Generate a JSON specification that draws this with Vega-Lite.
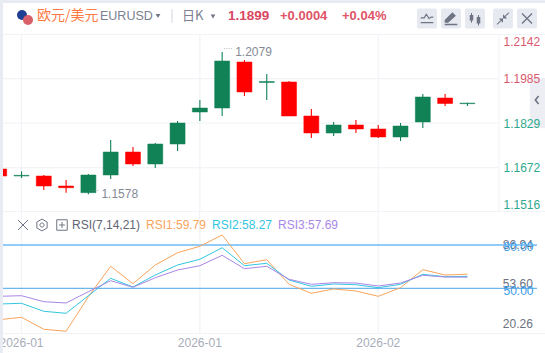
{
"$schema":"https://vega.github.io/schema/vega-lite/v6.json",
"background":"#e8ebf1",
"padding":{"left":3,"top":3,"right":0,"bottom":0},
"spacing":0,
"bounds":"flush",
"config":{"view":{"fill":"#ffffff","stroke":null},"font":"Liberation Sans","text":{"font":"Liberation Sans"}},
"datasets":{"bars":[
{"i":0,"open":1.16672,"high":1.16672,"low":1.16426,"close":1.16426,"rsi1":28.25,"rsi2":39.13,"rsi3":44.46},
{"i":1,"open":1.16426,"high":1.16591,"low":1.16356,"close":1.1645,"rsi1":29.92,"rsi2":39.61,"rsi3":44.88},
{"i":2,"open":1.16426,"high":1.16461,"low":1.15933,"close":1.16074,"rsi1":21.61,"rsi2":34.07,"rsi3":40.72},
{"i":3,"open":1.16074,"high":1.16285,"low":1.15839,"close":1.16014,"rsi1":20.26,"rsi2":32.69,"rsi3":39.82},
{"i":4,"open":1.15839,"high":1.16496,"low":1.1578,"close":1.16461,"rsi1":44.18,"rsi2":44.88,"rsi3":47.65},
{"i":5,"open":1.16461,"high":1.17692,"low":1.1632,"close":1.1727,"rsi1":65.24,"rsi2":56.93,"rsi3":55.26},
{"i":6,"open":1.1727,"high":1.17446,"low":1.16778,"close":1.16848,"rsi1":53.19,"rsi2":50.9,"rsi3":50.69},
{"i":7,"open":1.16848,"high":1.17587,"low":1.16707,"close":1.17551,"rsi1":66.14,"rsi2":59.21,"rsi3":57.34},
{"i":8,"open":1.17551,"high":1.1836,"low":1.17305,"close":1.1829,"rsi1":74.65,"rsi2":66.14,"rsi3":62.67},
{"i":9,"open":1.18677,"high":1.19099,"low":1.1836,"close":1.18817,"rsi1":79.09,"rsi2":70.08,"rsi3":65.65},
{"i":10,"open":1.18817,"high":1.2079,"low":1.18536,"close":1.2047,"rsi1":86.94,"rsi2":78.12,"rsi3":72.85},
{"i":11,"open":1.20435,"high":1.20506,"low":1.19239,"close":1.1938,"rsi1":67.04,"rsi2":65.65,"rsi3":63.57},
{"i":12,"open":1.19714,"high":1.20013,"low":1.19099,"close":1.19749,"rsi1":69.81,"rsi2":67.31,"rsi3":65.24},
{"i":13,"open":1.19732,"high":1.19767,"low":1.18536,"close":1.18536,"rsi1":52.77,"rsi2":55.75,"rsi3":56.23},
{"i":14,"open":1.18536,"high":1.18782,"low":1.17762,"close":1.17938,"rsi1":46.54,"rsi2":51.39,"rsi3":52.77},
{"i":15,"open":1.17938,"high":1.18325,"low":1.17833,"close":1.1822,"rsi1":49.52,"rsi2":52.98,"rsi3":53.88},
{"i":16,"open":1.1822,"high":1.18395,"low":1.17938,"close":1.18079,"rsi1":48.13,"rsi2":52.49,"rsi3":53.67},
{"i":17,"open":1.18079,"high":1.1822,"low":1.17762,"close":1.17798,"rsi1":44.46,"rsi2":50.42,"rsi3":51.59},
{"i":18,"open":1.17798,"high":1.1829,"low":1.17657,"close":1.18184,"rsi1":50.42,"rsi2":52.77,"rsi3":53.67},
{"i":19,"open":1.18325,"high":1.1931,"low":1.18114,"close":1.19204,"rsi1":62.88,"rsi2":59.7,"rsi3":59},
{"i":20,"open":1.19169,"high":1.1931,"low":1.18888,"close":1.18975,"rsi1":59.21,"rsi2":58.03,"rsi3":57.83},
{"i":21,"open":1.1897,"high":1.19,"low":1.1889,"close":1.1899,"rsi1":59.79,"rsi2":58.27,"rsi3":57.69}
]},
"vconcat":[
{"width":542,"height":31,"data":{"values":[{"panel":"header"}]},
 "layer":[
 {"mark":{"type":"point","filled":true,"color":"#e6e9f0","opacity":1,"size":400,"shape":"M-0.8,-1H0.8Q1,-1 1,-0.8V0.8Q1,1 0.8,1H-0.8Q-1,1 -1,0.8V-0.8Q-1,-1 -0.8,-1Z"},
  "data":{"values":[{"b":427},{"b":451},{"b":475},{"b":503},{"b":527}]},
  "encoding":{"x":{"field":"b","type":"quantitative","scale":{"domain":[3,545],"nice":false,"zero":false},"axis":null}}},
 {"mark":{"type":"point","filled":false,"color":"#6e7483","opacity":1,"strokeWidth":1.2,"size":196,"shape":"M-0.9,-0.1L-0.4,-0.1L-0.1,-0.6L0.3,0L0.6,-0.2L0.9,-0.2M-0.9,0.6L0.9,0.6"},
  "encoding":{"x":{"datum":427,"type":"quantitative","scale":{"domain":[3,545],"nice":false,"zero":false},"axis":null}}},
 {"mark":{"type":"point","filled":true,"color":"#6e7483","opacity":1,"size":196,"shape":"M-0.9,0.6L-0.9,0.2L0.2,-0.9L0.7,-0.4L-0.4,0.6ZM-0.9,0.75L0.9,0.75L0.9,0.95L-0.9,0.95Z"},
  "encoding":{"x":{"datum":451,"type":"quantitative","scale":{"domain":[3,545],"nice":false,"zero":false},"axis":null}}},
 {"mark":{"type":"point","filled":true,"color":"#6e7483","opacity":1,"size":196,"shape":"M-0.75,-0.5H-0.25V0.3H-0.75ZM-0.57,-0.8H-0.43V0.6H-0.57ZM0.25,-0.2H0.75V0.7H0.25ZM0.43,-0.5H0.57V1H0.43Z"},
  "encoding":{"x":{"datum":475,"type":"quantitative","scale":{"domain":[3,545],"nice":false,"zero":false},"axis":null}}},
 {"mark":{"type":"point","filled":true,"color":"#6e7483","opacity":1,"size":196,"shape":"M0.9,-0.8L0.35,-0.25L0.25,-0.35L0.8,-0.9ZM0,-0.6L0,0L0.6,0ZM-0.9,0.8L-0.35,0.25L-0.25,0.35L-0.8,0.9ZM0,0.6L0,0L-0.6,0Z"},
  "encoding":{"x":{"datum":503,"type":"quantitative","scale":{"domain":[3,545],"nice":false,"zero":false},"axis":null}}},
 {"mark":{"type":"point","filled":false,"color":"#6e7483","opacity":1,"strokeWidth":1.3,"size":100,"shape":"M-1,-1L1,1M-1,1L1,-1"},
  "encoding":{"x":{"datum":527,"type":"quantitative","scale":{"domain":[3,545],"nice":false,"zero":false},"axis":null}}},
 {"mark":{"type":"point","filled":true,"color":"#1f3f95","opacity":1,"size":100,"shape":"circle","yOffset":-3.5},
  "encoding":{"x":{"datum":22,"type":"quantitative","scale":{"domain":[3,545],"nice":false,"zero":false},"axis":null}}},
 {"mark":{"type":"point","filled":true,"color":"#d9606a","opacity":1,"size":100,"shape":"circle","yOffset":1.5},
  "encoding":{"x":{"datum":28,"type":"quantitative","scale":{"domain":[3,545],"nice":false,"zero":false},"axis":null}}},
 {"mark":{"type":"text","align":"left","dy":-2.5,"font":"Noto Sans CJK SC","fontSize":14,"color":"#ff7a45"},
  "encoding":{"x":{"datum":37,"type":"quantitative","scale":{"domain":[3,545],"nice":false,"zero":false},"axis":null},"text":{"value":"欧元/美元"}}},
 {"mark":{"type":"text","align":"left","dy":-2.5,"fontSize":12.5,"color":"#7b8091"},
  "encoding":{"x":{"datum":100,"type":"quantitative","scale":{"domain":[3,545],"nice":false,"zero":false},"axis":null},"text":{"value":"EURUSD"}}},
 {"mark":{"type":"point","filled":true,"color":"#6e7483","opacity":1,"size":22,"shape":"triangle-down","yOffset":-2.5},
  "encoding":{"x":{"datum":158,"type":"quantitative","scale":{"domain":[3,545],"nice":false,"zero":false},"axis":null}}},
 {"mark":{"type":"point","filled":false,"color":"#d0d4dc","opacity":1,"strokeWidth":1,"size":196,"shape":"M0,-1L0,1","yOffset":-2.5},
  "encoding":{"x":{"datum":172,"type":"quantitative","scale":{"domain":[3,545],"nice":false,"zero":false},"axis":null}}},
 {"mark":{"type":"text","align":"left","dy":-3,"font":"Noto Sans CJK SC","fontSize":13,"color":"#7b8091"},
  "encoding":{"x":{"datum":182,"type":"quantitative","scale":{"domain":[3,545],"nice":false,"zero":false},"axis":null},"text":{"value":"日K"}}},
 {"mark":{"type":"point","filled":true,"color":"#6e7483","opacity":1,"size":22,"shape":"triangle-down","yOffset":-2},
  "encoding":{"x":{"datum":213,"type":"quantitative","scale":{"domain":[3,545],"nice":false,"zero":false},"axis":null}}},
 {"mark":{"type":"text","align":"left","dy":-2.5,"fontSize":13.5,"fontWeight":"bold","color":"#d9475f"},
  "encoding":{"x":{"datum":228,"type":"quantitative","scale":{"domain":[3,545],"nice":false,"zero":false},"axis":null},"text":{"value":"1.1899"}}},
 {"mark":{"type":"text","align":"left","dy":-2.5,"fontSize":13,"fontWeight":"bold","color":"#de5468"},
  "encoding":{"x":{"datum":280,"type":"quantitative","scale":{"domain":[3,545],"nice":false,"zero":false},"axis":null},"text":{"value":"+0.0004"}}},
 {"mark":{"type":"text","align":"left","dy":-2.5,"fontSize":13,"fontWeight":"bold","color":"#de5468"},
  "encoding":{"x":{"datum":342,"type":"quantitative","scale":{"domain":[3,545],"nice":false,"zero":false},"axis":null},"text":{"value":"+0.04%"}}}
 ]},
{"width":542,"height":178,"data":{"name":"bars"},
 "resolve":{"scale":{"y":"independent"}},
 "layer":[
 {"data":{"values":[{"p":1.1985},{"p":1.1829},{"p":1.1672}]},"mark":{"type":"rule","color":"#f1f3f7","strokeWidth":1.2,"clip":true},
  "encoding":{"y":{"field":"p","type":"quantitative","scale":{"domain":[1.1516,1.2142],"nice":false,"zero":false},"axis":null},
   "x":{"datum":0.17,"type":"quantitative","scale":{"domain":[0.17,24.48],"nice":false,"zero":false,"padding":0},"axis":null},"x2":{"datum":22.41}}},
 {"data":{"values":[{"p":1.2142},{"p":1.1516}]},"mark":{"type":"rule","color":"#f1f3f7","strokeWidth":2,"clip":true},
  "encoding":{"y":{"field":"p","type":"quantitative","scale":{"domain":[1.1516,1.2142],"nice":false,"zero":false},"axis":null},
   "x":{"datum":0.17,"type":"quantitative","scale":{"domain":[0.17,24.48],"nice":false,"zero":false,"padding":0},"axis":null},"x2":{"datum":24.48}}},
 {"data":{"values":[{"v":1},{"v":9},{"v":17},{"v":22.41}]},"mark":{"type":"rule","color":"#f1f3f7","strokeWidth":1.2,"clip":true},
  "encoding":{"x":{"field":"v","type":"quantitative","scale":{"domain":[0.17,24.48],"nice":false,"zero":false,"padding":0},"axis":null}}},
 {"data":{"values":[{"tab":"collapse"}]},"mark":{"type":"rect","color":"#eceef3","clip":true},
  "encoding":{"x":{"datum":23.8,"type":"quantitative","scale":{"domain":[0.17,24.48],"nice":false,"zero":false,"padding":0},"axis":null},"x2":{"datum":24.48},
   "y":{"datum":1.1987,"type":"quantitative","scale":{"domain":[1.1516,1.2142],"nice":false,"zero":false},"axis":null},"y2":{"datum":1.1811}}},
 {"data":{"values":[{"tab":"collapse"}]},"mark":{"type":"point","filled":false,"color":"#6e7483","opacity":1,"strokeWidth":1.6,"size":64,"shape":"M0.4,-1L-0.4,0L0.4,1"},
  "encoding":{"x":{"datum":24.12,"type":"quantitative","scale":{"domain":[0.17,24.48],"nice":false,"zero":false,"padding":0},"axis":null},
   "y":{"datum":1.191,"type":"quantitative","scale":{"domain":[1.1516,1.2142],"nice":false,"zero":false},"axis":null}}},
 {"mark":{"type":"rule","strokeWidth":1.1,"clip":true},
  "encoding":{"x":{"field":"i","type":"quantitative","scale":{"domain":[0.17,24.48],"nice":false,"zero":false,"padding":0},"axis":null},
   "y":{"field":"low","type":"quantitative","scale":{"domain":[1.1516,1.2142],"nice":false,"zero":false},"axis":null},"y2":{"field":"high"},
   "color":{"condition":{"test":"datum.close>=datum.open","value":"#118156"},"value":"#ff0000"}}},
 {"mark":{"type":"bar","size":15,"clip":true,"strokeWidth":0.5},
  "encoding":{"x":{"field":"i","type":"quantitative","scale":{"domain":[0.17,24.48],"nice":false,"zero":false,"padding":0},"axis":null},
   "y":{"field":"open","type":"quantitative","scale":{"domain":[1.1516,1.2142],"nice":false,"zero":false},"axis":null},"y2":{"field":"close"},
   "color":{"condition":{"test":"datum.close>=datum.open","value":"#118156"},"value":"#ff0000"},
   "stroke":{"condition":{"test":"datum.close>=datum.open","value":"#118156"},"value":"#ff0000"}}},
 {"data":{"values":[{"i":10,"p":1.2079,"label":"1.2079"},{"i":4,"p":1.1578,"label":"1.1578"}]},
  "mark":{"type":"text","align":"left","dx":13,"fontSize":12,"color":"#858a96"},
  "encoding":{"x":{"field":"i","type":"quantitative","scale":{"domain":[0.17,24.48],"nice":false,"zero":false,"padding":0},"axis":null},
   "y":{"field":"p","type":"quantitative","scale":{"domain":[1.1516,1.2142],"nice":false,"zero":false},"axis":null},"text":{"field":"label"}}},
 {"data":{"values":[{"i":10,"p":1.2079},{"i":4,"p":1.1578}]},
  "mark":{"type":"text","align":"left","dx":1,"dy":-3,"fontSize":7,"color":"#858a96"},
  "encoding":{"x":{"field":"i","type":"quantitative","scale":{"domain":[0.17,24.48],"nice":false,"zero":false,"padding":0},"axis":null},
   "y":{"field":"p","type":"quantitative","scale":{"domain":[1.1516,1.2142],"nice":false,"zero":false},"axis":null},"text":{"value":"····"}}},
 {"data":{"values":[{"tick":1.2142},{"tick":1.1985},{"tick":1.1829},{"tick":1.1672},{"tick":1.1516}]},
  "mark":{"type":"rule","opacity":0,"clip":true},
  "encoding":{"y":{"field":"tick","type":"quantitative","scale":{"domain":[1.1516,1.2142],"nice":false,"zero":false},
    "axis":{"title":null,"orient":"right","offset":-46,"values":[1.2142,1.1985,1.1829,1.1672,1.1516],"format":".4f","ticks":false,"domain":false,"grid":false,"labelOffset":{"expr":"datum.value>1.21?7:datum.value<1.155?-7.5:0"},"labelPadding":4,"labelFontSize":12,"labelFont":"Liberation Sans","zindex":1,"labelColor":{"expr":"datum.value>1.19?'#dd5a6e':'#2fa98e'"}}}}}
 ]},
{"width":542,"height":20,"data":{"values":[{"panel":"legend"}]},
 "layer":[
 {"data":{"values":[{"v":21.5},{"v":199.5},{"v":378}]},"mark":{"type":"rule","color":"#f1f3f7","strokeWidth":1.2,"clip":true},
  "encoding":{"x":{"field":"v","type":"quantitative","scale":{"domain":[3,545],"nice":false,"zero":false},"axis":null}}},
 {"mark":{"type":"point","filled":false,"color":"#6e7483","opacity":1,"strokeWidth":1,"size":100,"yOffset":3,"shape":"M-1,-1L1,1M-1,1L1,-1"},
  "encoding":{"x":{"datum":23,"type":"quantitative","scale":{"domain":[3,545],"nice":false,"zero":false},"axis":null}}},
 {"mark":{"type":"point","filled":false,"color":"#6e7483","opacity":1,"strokeWidth":1,"size":140,"yOffset":3,"shape":"M0,-1L0.87,-0.5L0.87,0.5L0,1L-0.87,0.5L-0.87,-0.5ZM0.35,0A0.35,0.35 0 1 1 -0.35,0A0.35,0.35 0 1 1 0.35,0Z"},
  "encoding":{"x":{"datum":42,"type":"quantitative","scale":{"domain":[3,545],"nice":false,"zero":false},"axis":null}}},
 {"mark":{"type":"point","filled":false,"color":"#6e7483","opacity":1,"strokeWidth":1,"size":110,"yOffset":3,"shape":"M-1,-1H1V1H-1ZM-0.55,0H0.55M0,-0.55V0.55"},
  "encoding":{"x":{"datum":62,"type":"quantitative","scale":{"domain":[3,545],"nice":false,"zero":false},"axis":null}}},
 {"mark":{"type":"text","align":"left","dy":3,"fontSize":12,"color":"#5f6573"},
  "encoding":{"x":{"datum":72,"type":"quantitative","scale":{"domain":[3,545],"nice":false,"zero":false},"axis":null},"text":{"value":"RSI(7,14,21)"}}},
 {"mark":{"type":"text","align":"left","dy":3,"fontSize":12,"color":"#f9a45c"},
  "encoding":{"x":{"datum":146,"type":"quantitative","scale":{"domain":[3,545],"nice":false,"zero":false},"axis":null},"text":{"value":"RSI1:59.79"}}},
 {"mark":{"type":"text","align":"left","dy":3,"fontSize":12,"color":"#33c6e0"},
  "encoding":{"x":{"datum":212,"type":"quantitative","scale":{"domain":[3,545],"nice":false,"zero":false},"axis":null},"text":{"value":"RSI2:58.27"}}},
 {"mark":{"type":"text","align":"left","dy":3,"fontSize":12,"color":"#a987e6"},
  "encoding":{"x":{"datum":278,"type":"quantitative","scale":{"domain":[3,545],"nice":false,"zero":false},"axis":null},"text":{"value":"RSI3:57.69"}}}
 ]},
{"width":542,"height":102,"data":{"name":"bars"},
 "resolve":{"scale":{"y":"independent"}},
 "layer":[
 {"data":{"values":[{"v":1},{"v":9},{"v":17}]},"mark":{"type":"rule","color":"#f1f3f7","strokeWidth":1.2,"clip":true},
  "encoding":{"x":{"field":"v","type":"quantitative","scale":{"domain":[0.17,24.48],"nice":false,"zero":false},"axis":null}}},
 {"data":{"values":[{"edge":"bottom"}]},"mark":{"type":"rule","color":"#f1f3f7","strokeWidth":2,"clip":true},
  "encoding":{"x":{"datum":0.17,"type":"quantitative","scale":{"domain":[0.17,24.48],"nice":false,"zero":false},"axis":null},"x2":{"datum":24.48},
   "y":{"datum":18.35,"type":"quantitative","scale":{"domain":[18.35,88.99],"nice":false,"zero":false},"axis":null}}},
 {"data":{"values":[{"t":86.94},{"t":53.6},{"t":20.26}]},"mark":{"type":"text","align":"left","fontSize":12,"color":"#6d7280"},
  "encoding":{"x":{"datum":22.59,"type":"quantitative","scale":{"domain":[0.17,24.48],"nice":false,"zero":false},"axis":null},
   "y":{"field":"t","type":"quantitative","scale":{"domain":[11.82,97.91],"nice":false,"zero":false},"axis":null},
   "text":{"field":"t","type":"quantitative","format":".2f"}}},
 {"data":{"values":[{"lvl":80}]},"mark":{"type":"rule","color":"#90cbf9","strokeWidth":2,"clip":true},
  "encoding":{"x":{"datum":0.17,"type":"quantitative","scale":{"domain":[0.17,24.48],"nice":false,"zero":false},"axis":null},"x2":{"datum":24.12},
   "y":{"field":"lvl","type":"quantitative","scale":{"domain":[18.35,88.99],"nice":false,"zero":false},
    "axis":{"title":null,"orient":"right","offset":-46,"values":[80,50],"format":".2f","ticks":false,"domain":false,"grid":false,"labelPadding":4,"labelOffset":2,"labelFontSize":12,"labelFont":"Liberation Sans","labelColor":"#3b9be8","zindex":1}}}},
 {"data":{"values":[{"lvl":50}]},"mark":{"type":"rule","color":"#4aa3e8","strokeWidth":1,"clip":true},
  "encoding":{"x":{"datum":0.17,"type":"quantitative","scale":{"domain":[0.17,24.48],"nice":false,"zero":false},"axis":null},"x2":{"datum":24.12},
   "y":{"field":"lvl","type":"quantitative","scale":{"domain":[18.35,88.99],"nice":false,"zero":false},"axis":null}}},
 {"mark":{"type":"line","color":"#f9a45c","strokeWidth":1,"clip":true},
  "encoding":{"x":{"field":"i","type":"quantitative","scale":{"domain":[0.17,24.48],"nice":false,"zero":false},"axis":null},
   "y":{"field":"rsi1","type":"quantitative","scale":{"domain":[18.35,88.99],"nice":false,"zero":false},"axis":null}}},
 {"mark":{"type":"line","color":"#33c6e0","strokeWidth":1,"clip":true},
  "encoding":{"x":{"field":"i","type":"quantitative","scale":{"domain":[0.17,24.48],"nice":false,"zero":false},"axis":null},
   "y":{"field":"rsi2","type":"quantitative","scale":{"domain":[18.35,88.99],"nice":false,"zero":false},"axis":null}}},
 {"mark":{"type":"line","color":"#a987e6","strokeWidth":1,"clip":true},
  "encoding":{"x":{"field":"i","type":"quantitative","scale":{"domain":[0.17,24.48],"nice":false,"zero":false},"axis":null},
   "y":{"field":"rsi3","type":"quantitative","scale":{"domain":[18.35,88.99],"nice":false,"zero":false},"axis":null}}}
 ]},
{"width":542,"height":19,"data":{"values":[{"i":1,"label":"2026-01"},{"i":9,"label":"2026-01"},{"i":17,"label":"2026-02"}]},
 "mark":{"type":"text","fontSize":12,"color":"#a8adba","dy":-1,"clip":true},
 "encoding":{"x":{"field":"i","type":"quantitative","scale":{"domain":[0.17,24.48],"nice":false,"zero":false},"axis":null},"text":{"field":"label"}}}
]
}
